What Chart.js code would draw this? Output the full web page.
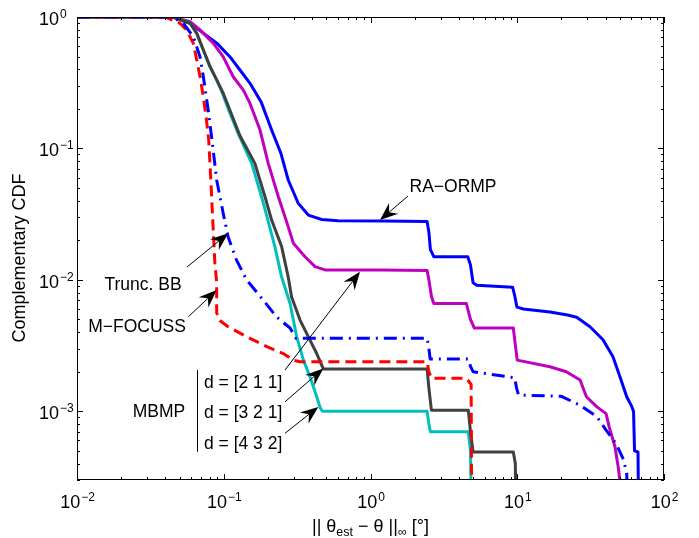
<!DOCTYPE html>
<html>
<head>
<meta charset="utf-8">
<script src="https://cdn.jsdelivr.net/npm/chart.js@4.4.1/dist/chart.umd.min.js"></script>
<style>
    html, body { margin: 0; padding: 0; background: #fff; }
    #wrap { width: 699px; height: 538px; position: relative; }
</style>
</head>
<body>
<div id="wrap"><canvas id="cdfChart"></canvas></div>
<script>
// complementary CDF of the max angle error
var raOrmpX = [0.01, 0.045, 0.059, 0.073, 0.09, 0.11, 0.129, 0.151, 0.18, 0.212, 0.245, 0.275, 0.322, 0.377, 0.465, 0.6, 1.2, 2.43, 2.5, 2.56, 2.7, 4.6, 4.8, 5.0, 5.3, 9.3, 9.6, 9.95, 11, 16.7, 22, 25.4, 31.3, 38.4, 44.9, 50.1, 55.7, 60, 62, 63, 66.5, 67.5];
var raOrmpY = [1, 1, 0.896, 0.751, 0.63, 0.499, 0.395, 0.313, 0.225, 0.138, 0.092, 0.0575, 0.0382, 0.0311, 0.0288, 0.0282, 0.028, 0.0278, 0.023, 0.017, 0.015, 0.015, 0.013, 0.0095, 0.0091, 0.0088, 0.0076, 0.0062, 0.006, 0.0057, 0.0054, 0.0052, 0.0044, 0.0035, 0.0026, 0.00183, 0.00129, 0.0011, 0.001, 0.0005, 0.00049, 0.0001];

var mbmp211X = [0.01, 0.045, 0.059, 0.069, 0.085, 0.099, 0.116, 0.136, 0.151, 0.1767, 0.201, 0.2355, 0.275, 0.298, 0.358, 0.419, 0.49, 1.2, 2.43, 2.5, 2.6, 2.7, 4.5, 4.8, 5.1, 9.4, 9.7, 10.0, 16.7, 21.6, 26.8, 29.6, 34.9, 40.3, 42.3, 46.3, 48.7, 50, 51];
var mbmp211Y = [1, 1, 0.92, 0.796, 0.63, 0.499, 0.351, 0.278, 0.22, 0.138, 0.077, 0.0429, 0.0254, 0.019, 0.015, 0.0126, 0.0119, 0.0119, 0.0118, 0.01, 0.0075, 0.0066, 0.0066, 0.005, 0.0043, 0.0043, 0.0032, 0.00245, 0.00218, 0.002, 0.00173, 0.00129, 0.00108, 0.00096, 0.00076, 0.00054, 0.00038, 0.0003, 0.0001];

var mbmp321X = [0.01, 0.045, 0.059, 0.0655, 0.0726, 0.0806, 0.0895, 0.0992, 0.11, 0.122, 0.129, 0.163, 0.191, 0.212, 0.248, 0.275, 0.29, 0.331, 0.387, 0.43, 0.477, 1.2, 2.43, 2.5, 2.6, 4.64, 4.8, 5.0, 9.4, 9.7, 9.9];
var mbmp321Y = [1, 1, 0.896, 0.751, 0.561, 0.419, 0.332, 0.263, 0.196, 0.146, 0.125, 0.077, 0.0429, 0.0285, 0.0179, 0.0105, 0.0074, 0.00494, 0.00348, 0.00275, 0.0021, 0.0021, 0.0021, 0.0015, 0.00102, 0.00102, 0.0007, 0.00049, 0.00049, 0.0004, 0.0001];

var mbmp432X = [0.01, 0.045, 0.059, 0.0655, 0.0726, 0.0806, 0.0895, 0.098, 0.108, 0.1225, 0.155, 0.181, 0.2, 0.223, 0.248, 0.283, 0.314, 0.349, 0.387, 0.43, 0.453, 0.47, 1.2, 2.43, 2.5, 2.56, 4.64, 4.8, 4.9];
var mbmp432Y = [1, 1, 0.896, 0.751, 0.561, 0.419, 0.332, 0.263, 0.196, 0.138, 0.077, 0.0429, 0.0285, 0.0179, 0.0105, 0.0066, 0.0037, 0.00245, 0.00183, 0.00129, 0.00107, 0.001, 0.001, 0.001, 0.0008, 0.0007, 0.0007, 0.0005, 0.0001];

var mFocussX = [0.01, 0.04, 0.0503, 0.0559, 0.062, 0.0655, 0.0689, 0.0726, 0.0765, 0.079, 0.0815, 0.0848, 0.087, 0.0895, 0.0895, 0.094, 0.107, 0.143, 0.197, 0.254, 0.297, 0.33, 1.2, 2.43, 2.5, 2.6, 4.5, 4.85, 4.9];
var mFocussY = [1, 1, 0.896, 0.796, 0.63, 0.47, 0.351, 0.247, 0.16, 0.115, 0.06, 0.0239, 0.0134, 0.0095, 0.0056, 0.0049, 0.0044, 0.0037, 0.0031, 0.00275, 0.00245, 0.00238, 0.00238, 0.00238, 0.002, 0.00178, 0.00178, 0.0016, 0.0001];

var truncBbX = [0.01, 0.045, 0.053, 0.062, 0.0689, 0.0726, 0.0783, 0.0826, 0.0895, 0.0992, 0.107, 0.122, 0.143, 0.186, 0.23, 0.283, 0.31, 1.2, 2.43, 2.5, 2.55, 4.64, 4.8, 5.0, 9.6, 9.9, 10.2, 20, 26.8, 34.9, 40.3, 47, 52.9, 55.7, 57];
var truncBbY = [1, 1, 0.896, 0.708, 0.499, 0.351, 0.196, 0.123, 0.0575, 0.032, 0.0213, 0.0142, 0.01, 0.007, 0.0052, 0.0043, 0.0036, 0.0036, 0.0036, 0.003, 0.0025, 0.0025, 0.0022, 0.002, 0.0018, 0.0015, 0.00133, 0.0013, 0.00111, 0.00091, 0.00072, 0.00057, 0.00043, 0.00034, 0.0001];

var xTickValues = [0.01, 0.1, 1, 10, 100];
var yTickValues = [0.001, 0.01, 0.1, 1];

// annotation texts and arrows, given in data coordinates
var arrowNotes = [
    { text: 'RA\u2212ORMP', x: 3.65, y: 0.0508, align: 'center', from: [1.80, 0.0434], to: [1.16, 0.0285] },
    { text: 'Trunc. BB', x: 0.0282, y: 0.00913, align: 'center', from: [0.0562, 0.01252], to: [0.1074, 0.0226] },
    { text: 'M\u2212FOCUSS', x: 0.02564, y: 0.00434, align: 'center', from: [0.0574, 0.00524], to: [0.0895, 0.00836] },
    { text: 'MBMP', x: 0.0362, y: 0.000977, align: 'center' },
    { text: 'd = [2 1 1]', x: 0.0733, y: 0.00165, align: 'left', from: [0.2615, 0.00206], to: [0.848, 0.01153] },
    { text: 'd = [3 2 1]', x: 0.0733, y: 0.00097, align: 'left', from: [0.2615, 0.00118], to: [0.477, 0.00212] },
    { text: 'd = [4 3 2]', x: 0.0733, y: 0.000558, align: 'left', from: [0.2615, 0.00068], to: [0.441, 0.00108] }
];
var bracket = { x: 0.0655, y0: 0.00206, y1: 0.000492 };

var FONT = "'Liberation Sans', Arial, Helvetica, sans-serif";

function toPoints(xs, ys) {
    return xs.map(function (x, i) { return { x: x, y: ys[i] }; });
}

function drawArrow(ctx, x0, y0, x1, y1) {
    var ang = Math.atan2(y1 - y0, x1 - x0);
    var c = Math.cos(ang), s = Math.sin(ang);
    var L = 18, W = 7, N = 12;
    ctx.beginPath();
    ctx.moveTo(x0, y0);
    ctx.lineTo(x1 - N * c, y1 - N * s);
    ctx.stroke();
    ctx.beginPath();
    ctx.moveTo(x1, y1);
    ctx.lineTo(x1 - L * c + W * s, y1 - L * s - W * c);
    ctx.lineTo(x1 - N * c, y1 - N * s);
    ctx.lineTo(x1 - L * c - W * s, y1 - L * s + W * c);
    ctx.closePath();
    ctx.fill();
}

// "10" with a raised exponent
function powerLabel(ctx, exp, x, baseY, align) {
    var e = exp < 0 ? '\u2212' + Math.abs(exp) : String(exp);
    ctx.font = '18px ' + FONT;
    var wb = ctx.measureText('10').width;
    ctx.font = '12px ' + FONT;
    var we = ctx.measureText(e).width;
    var left = align === 'center' ? x - (wb + we) / 2 : x - wb;
    ctx.textAlign = 'left';
    ctx.textBaseline = 'alphabetic';
    ctx.font = '18px ' + FONT;
    ctx.fillText('10', left, baseY);
    ctx.font = '12px ' + FONT;
    ctx.fillText(e, left + wb + 1, baseY - 7);
}

var matlabAxes = {
    id: 'matlabAxes',
    afterDatasetsDraw: function (chart) {
        var ctx = chart.ctx, a = chart.chartArea;
        var xs = chart.scales.x, ys = chart.scales.y;
        ctx.save();
        ctx.strokeStyle = '#000';
        ctx.fillStyle = '#000';
        ctx.lineWidth = 1;

        // inward ticks on all four sides
        ctx.beginPath();
        var d, m, v, p, len;
        for (d = -2; d <= 2; d++) {
            for (m = 1; m <= 9; m++) {
                v = m * Math.pow(10, d);
                if (v > 100.0001) break;
                p = Math.round(xs.getPixelForValue(v)) + 0.5;
                len = m === 1 ? 6 : 3;
                ctx.moveTo(p, a.bottom); ctx.lineTo(p, a.bottom - len);
                ctx.moveTo(p, a.top); ctx.lineTo(p, a.top + len);
            }
        }
        for (d = -4; d <= 0; d++) {
            for (m = 1; m <= 9; m++) {
                v = m * Math.pow(10, d);
                if (v < 0.00029 || v > 1.0001) continue;
                p = Math.round(ys.getPixelForValue(v)) + 0.5;
                len = m === 1 ? 6 : 3;
                ctx.moveTo(a.left, p); ctx.lineTo(a.left + len, p);
                ctx.moveTo(a.right, p); ctx.lineTo(a.right - len, p);
            }
        }
        ctx.stroke();
        ctx.strokeRect(a.left + 0.5, a.top + 0.5, a.right - a.left - 1, a.bottom - a.top - 1);

        // tick labels
        xTickValues.forEach(function (t) {
            powerLabel(ctx, Math.round(Math.log10(t)), xs.getPixelForValue(t), a.bottom + 28, 'center');
        });
        yTickValues.forEach(function (t) {
            powerLabel(ctx, Math.round(Math.log10(t)), a.left - 18, ys.getPixelForValue(t) + 8, 'right');
        });

        // axis titles
        ctx.save();
        ctx.translate(20, 258);
        ctx.rotate(-Math.PI / 2);
        ctx.font = '18px ' + FONT;
        ctx.textAlign = 'center';
        ctx.textBaseline = 'middle';
        ctx.fillText('Complementary CDF', 0, 0);
        ctx.restore();

        var parts = [
            { t: '|| \u03b8', size: 18, sub: false },
            { t: 'est', size: 12.5, sub: true },
            { t: ' \u2212 \u03b8 ||', size: 18, sub: false },
            { t: '\u221e', size: 12.5, sub: true },
            { t: ' [\u00b0]', size: 18, sub: false }
        ];
        var total = 0;
        parts.forEach(function (pt) {
            ctx.font = pt.size + 'px ' + FONT;
            pt.w = ctx.measureText(pt.t).width;
            total += pt.w;
        });
        var cx = (a.left + a.right) / 2 - total / 2;
        ctx.textAlign = 'left';
        ctx.textBaseline = 'alphabetic';
        parts.forEach(function (pt) {
            ctx.font = pt.size + 'px ' + FONT;
            ctx.fillText(pt.t, cx, pt.sub ? 535.5 : 531.5);
            cx += pt.w;
        });

        // annotations
        ctx.lineWidth = 1;
        ctx.font = '17.5px ' + FONT;
        ctx.textBaseline = 'middle';
        arrowNotes.forEach(function (n) {
            ctx.textAlign = n.align;
            ctx.fillText(n.text, xs.getPixelForValue(n.x), ys.getPixelForValue(n.y));
            if (n.from) {
                drawArrow(ctx,
                    xs.getPixelForValue(n.from[0]), ys.getPixelForValue(n.from[1]),
                    xs.getPixelForValue(n.to[0]), ys.getPixelForValue(n.to[1]));
            }
        });
        var bx = Math.round(xs.getPixelForValue(bracket.x)) + 0.5;
        ctx.beginPath();
        ctx.moveTo(bx, ys.getPixelForValue(bracket.y0));
        ctx.lineTo(bx, ys.getPixelForValue(bracket.y1));
        ctx.stroke();
        ctx.restore();
    }
};

function series(label, xs, ys, color, dash) {
    return {
        label: label,
        data: toPoints(xs, ys),
        borderColor: color,
        borderWidth: 3,
        borderDash: dash || [],
        borderCapStyle: 'butt',
        borderJoinStyle: 'round',
        pointRadius: 0,
        tension: 0,
        fill: false,
        clip: 0
    };
}

var ctx = document.getElementById('cdfChart').getContext('2d');
var chart = new Chart(ctx, {
    type: 'line',
    data: {
        // first dataset ends up on top
        datasets: [
            series('Trunc. BB', truncBbX, truncBbY, '#0000ff', [13, 6, 2, 6]),
            series('M-FOCUSS', mFocussX, mFocussY, '#ff0000', [11, 6]),
            series('MBMP d = [3 2 1]', mbmp321X, mbmp321Y, '#404040'),
            series('MBMP d = [4 3 2]', mbmp432X, mbmp432Y, '#00bfbf'),
            series('MBMP d = [2 1 1]', mbmp211X, mbmp211Y, '#bf00bf'),
            series('RA-ORMP', raOrmpX, raOrmpY, '#0000ff')
        ]
    },
    options: {
        responsive: true,
        maintainAspectRatio: false,
        devicePixelRatio: 1,
        animation: false,
        layout: { padding: { left: 77, right: 35, top: 17, bottom: 58 } },
        plugins: { legend: { display: false }, tooltip: { enabled: false } },
        scales: {
            x: { type: 'logarithmic', min: 0.01, max: 100, display: false },
            y: { type: 'logarithmic', min: 0.0003, max: 1, display: false }
        }
    },
    plugins: [matlabAxes]
});
</script>
</body>
</html>
